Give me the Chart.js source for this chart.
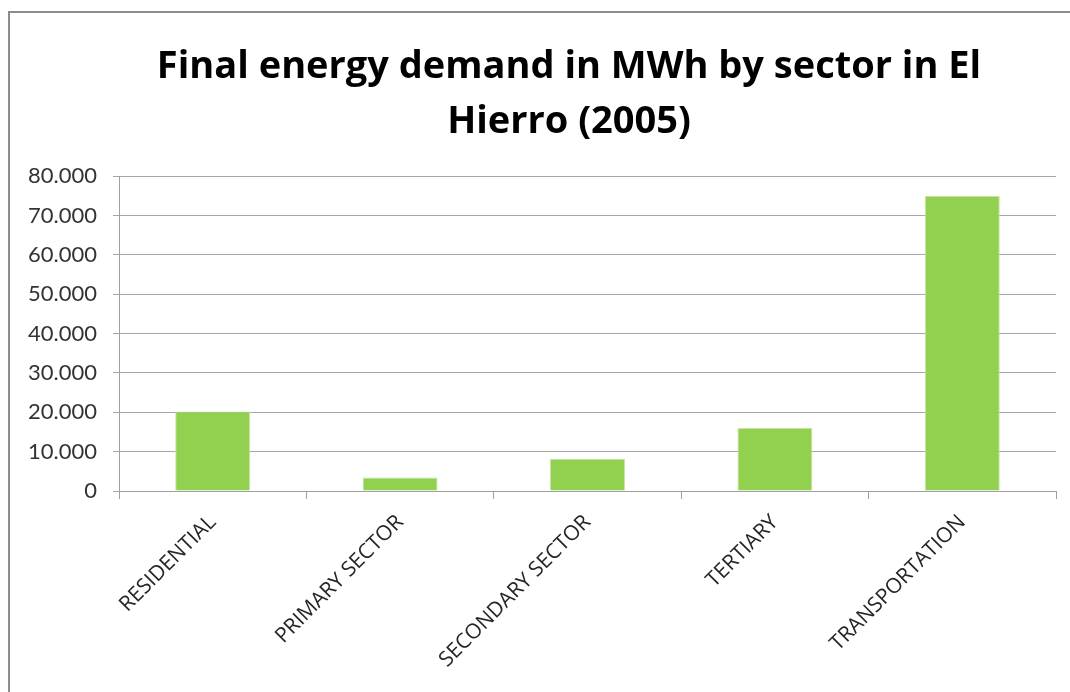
<!DOCTYPE html>
<html>
<head>
<meta charset="utf-8">
<script src="https://cdn.jsdelivr.net/npm/chart.js@4"></script>
<style>
  html, body { margin: 0; padding: 0; background: #fff; overflow: hidden; width: 1070px; height: 692px; }
  #frame { position: absolute; left: 8px; top: 11px; width: 1200px; height: 800px; border: 2px solid #8c8c8c; }
  #wrap { position: absolute; left: 10px; top: 12px; width: 1118px; height: 680px; }
</style>
</head>
<body>
<div id="frame"></div>
<div id="wrap"><canvas id="chart"></canvas></div>
<script>
const sectors = ['RESIDENTIAL', 'PRIMARY SECTOR', 'SECONDARY SECTOR', 'TERTIARY', 'TRANSPORTATION'];
const demandMWh = [20200, 3400, 8200, 16000, 75000];
const yTicks = [0, 10000, 20000, 30000, 40000, 50000, 60000, 70000, 80000];

function fmtDots(v) {
    return String(v).replace(/\B(?=(\d{3})+(?!\d))/g, '.');
}

new Chart(document.getElementById('chart'), {
    type: 'bar',
    data: {
        labels: sectors,
        datasets: [{
            label: 'MWh',
            data: demandMWh,
            backgroundColor: '#92d050',
            borderColor: '#c4e6a2',
            borderWidth: 1,
            categoryPercentage: 1,
            barPercentage: 0.4
        }]
    },
    options: {
        responsive: true,
        maintainAspectRatio: false,
        animation: false,
        layout: { padding: 0 },
        plugins: {
            legend: { display: false },
            tooltip: { enabled: false },
            title: {
                display: true,
                text: ['Final energy demand in MWh by sector in El', 'Hierro (2005)'],
                color: '#000',
                font: { family: 'Open Sans', size: 38, weight: 'bold', lineHeight: 1.45 },
                padding: { top: 28, bottom: 26 }
            }
        },
        scales: {
            x: {
                afterFit: axis => { axis.height = 201; },
                grid: { display: true, drawOnChartArea: false, drawTicks: true, tickLength: 8, color: '#a0a0a0' },
                border: { display: true, color: '#a0a0a0', width: 1 },
                ticks: {
                    minRotation: 45, maxRotation: 45, padding: 11,
                    color: '#262626',
                    font: { family: 'Open Sans', size: 21 }
                }
            },
            y: {
                min: 0, max: 80000,
                afterFit: axis => { axis.width = 109; },
                afterBuildTicks: axis => { axis.ticks = yTicks.map(v => ({ value: v })); },
                grid: { color: '#a6a6a6', tickLength: 6 },
                border: { display: true, color: '#a0a0a0', width: 1 },
                ticks: {
                    padding: 16,
                    color: '#333',
                    font: { family: 'Lato', size: 22 },
                    callback: v => fmtDots(v)
                }
            },
            // empty spacer on the right so the title stays centred on the full frame
            spacer: {
                type: 'linear',
                position: 'right',
                display: true,
                afterFit: axis => { axis.width = 72; },
                grid: { display: false },
                border: { display: false },
                ticks: { display: false }
            }
        }
    }
});
</script>
</body>
</html>
